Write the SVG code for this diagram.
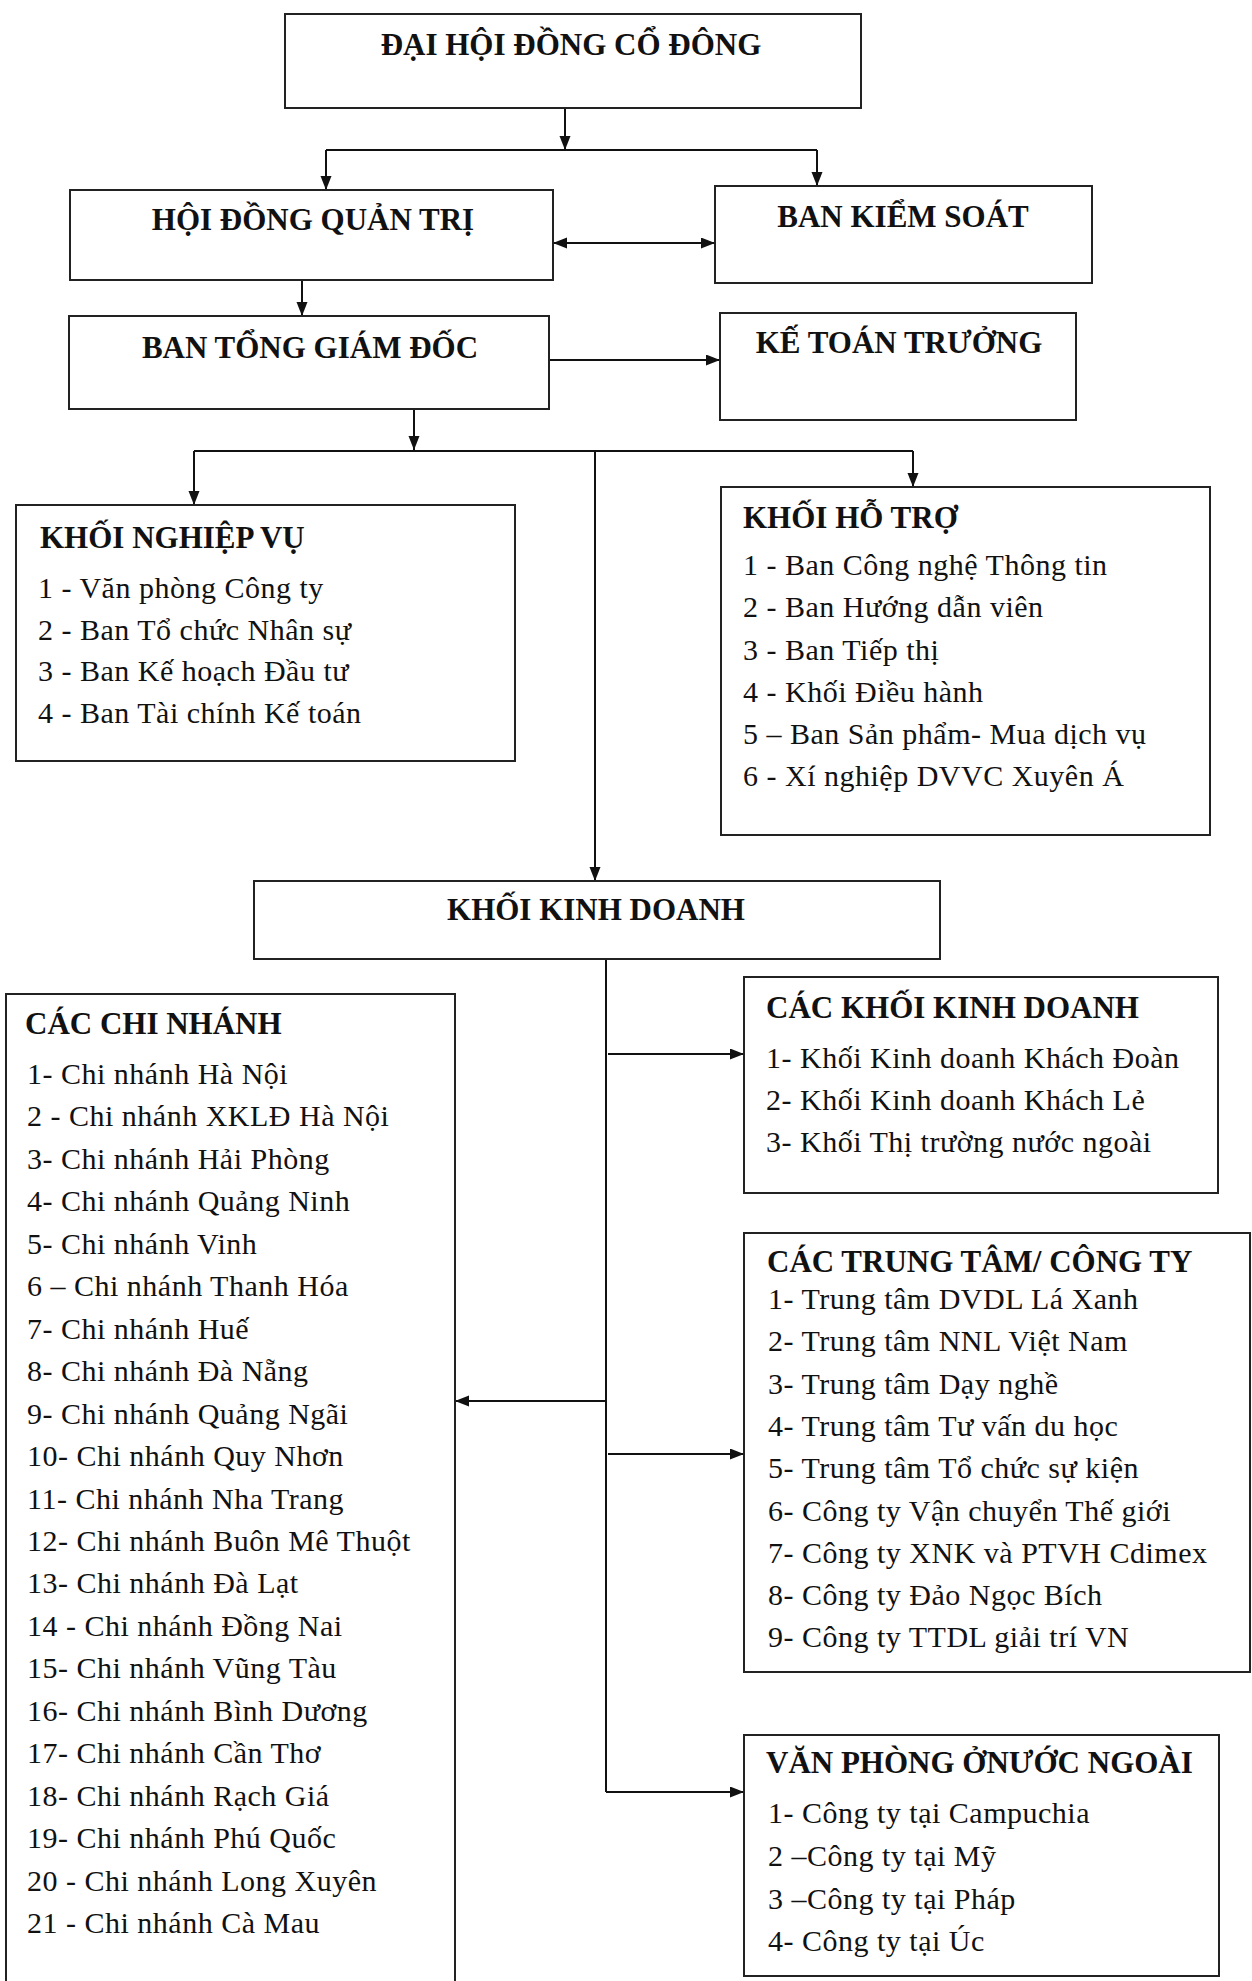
<svg xmlns="http://www.w3.org/2000/svg" width="1252" height="1981" viewBox="0 0 1252 1981">
<defs>
<marker id="arr" markerUnits="userSpaceOnUse" markerWidth="15" markerHeight="12" refX="14" refY="5.5" orient="auto-start-reverse">
<path d="M0,0 L14,5.5 L0,11 z" fill="#111"/>
</marker>
<style>
.box{fill:#fff;stroke:#222;stroke-width:2}
.t{font-family:"Liberation Serif","Times New Roman",serif;font-size:31px;font-weight:bold;fill:#111}
.c{text-anchor:middle}
.i{font-family:"Liberation Serif","Times New Roman",serif;font-size:30px;letter-spacing:0.5px;fill:#111}
.ln{fill:none;stroke:#111;stroke-width:2}
.ar{fill:none;stroke:#111;stroke-width:2;marker-end:url(#arr)}
</style>
</defs>
<rect width="1252" height="1981" fill="#fff"/>

<g id="connectors">
<path class="ar" d="M565,108 V150"/>
<path class="ln" d="M326,150 H817"/>
<path class="ar" d="M326,150 V190"/>
<path class="ar" d="M817,150 V186"/>
<path class="ar" style="marker-start:url(#arr)" d="M553,243 H715"/>
<path class="ar" d="M302,280 V316"/>
<path class="ar" d="M549,360 H720"/>
<path class="ar" d="M414,409 V450"/>
<path class="ln" d="M194,451 H913"/>
<path class="ar" d="M194,451 V505"/>
<path class="ar" d="M913,451 V487"/>
<path class="ar" d="M595,451 V881"/>
<path class="ln" d="M606,959 V1792"/>
<path class="ar" d="M608,1054 H744"/>
<path class="ar" d="M606,1401 H455"/>
<path class="ar" d="M608,1454 H744"/>
<path class="ar" d="M606,1792 H744"/>
</g>

<g id="dhdcd">
<rect class="box" x="285" y="14" width="576" height="94"/>
<text class="t c" x="571" y="55">ĐẠI HỘI ĐỒNG CỔ ĐÔNG</text>
</g>

<g id="hdqt">
<rect class="box" x="70" y="190" width="483" height="90"/>
<text class="t c" x="313" y="230">HỘI ĐỒNG QUẢN TRỊ</text>
</g>

<g id="bks">
<rect class="box" x="715" y="186" width="377" height="97"/>
<text class="t c" x="903" y="227">BAN KIỂM SOÁT</text>
</g>

<g id="btgd">
<rect class="box" x="69" y="316" width="480" height="93"/>
<text class="t c" x="310" y="358">BAN TỔNG GIÁM ĐỐC</text>
</g>

<g id="ktt">
<rect class="box" x="720" y="313" width="356" height="107"/>
<text class="t c" x="899" y="353">KẾ TOÁN TRƯỞNG</text>
</g>

<g id="knv">
<rect class="box" x="16" y="505" width="499" height="256"/>
<text class="t" x="40" y="548">KHỐI NGHIỆP VỤ</text>
<text class="i" x="38" y="598">1 - Văn phòng Công ty</text>
<text class="i" x="38" y="640">2 - Ban Tổ chức Nhân sự</text>
<text class="i" x="38" y="681">3 - Ban Kế hoạch Đầu tư</text>
<text class="i" x="38" y="723">4 - Ban Tài chính Kế toán</text>
</g>

<g id="kht">
<rect class="box" x="721" y="487" width="489" height="348"/>
<text class="t" x="743" y="528">KHỐI HỖ TRỢ</text>
<text class="i" x="743" y="575">1 - Ban Công nghệ Thông tin</text>
<text class="i" x="743" y="617">2 - Ban Hướng dẫn viên</text>
<text class="i" x="743" y="660">3 - Ban Tiếp thị</text>
<text class="i" x="743" y="702">4 - Khối Điều hành</text>
<text class="i" x="743" y="744">5 – Ban Sản phẩm- Mua dịch vụ</text>
<text class="i" x="743" y="786">6 - Xí nghiệp DVVC Xuyên Á</text>
</g>

<g id="kkd">
<rect class="box" x="254" y="881" width="686" height="78"/>
<text class="t c" x="596" y="920">KHỐI KINH DOANH</text>
</g>

<g id="ccn">
<rect class="box" x="6" y="994" width="449" height="1000"/>
<text class="t" x="25" y="1034">CÁC CHI NHÁNH</text>
<text class="i" x="27" y="1084">1- Chi nhánh Hà Nội</text>
<text class="i" x="27" y="1126">2 - Chi nhánh XKLĐ Hà Nội</text>
<text class="i" x="27" y="1169">3- Chi nhánh Hải Phòng</text>
<text class="i" x="27" y="1211">4- Chi nhánh Quảng Ninh</text>
<text class="i" x="27" y="1254">5- Chi nhánh Vinh</text>
<text class="i" x="27" y="1296">6 – Chi nhánh Thanh Hóa</text>
<text class="i" x="27" y="1339">7- Chi nhánh Huế</text>
<text class="i" x="27" y="1381">8- Chi nhánh Đà Nẵng</text>
<text class="i" x="27" y="1424">9- Chi nhánh Quảng Ngãi</text>
<text class="i" x="27" y="1466">10- Chi nhánh Quy Nhơn</text>
<text class="i" x="27" y="1509">11- Chi nhánh Nha Trang</text>
<text class="i" x="27" y="1551">12- Chi nhánh Buôn Mê Thuột</text>
<text class="i" x="27" y="1593">13- Chi nhánh Đà Lạt</text>
<text class="i" x="27" y="1636">14 - Chi nhánh Đồng Nai</text>
<text class="i" x="27" y="1678">15- Chi nhánh Vũng Tàu</text>
<text class="i" x="27" y="1721">16- Chi nhánh Bình Dương</text>
<text class="i" x="27" y="1763">17- Chi nhánh Cần Thơ</text>
<text class="i" x="27" y="1806">18- Chi nhánh Rạch Giá</text>
<text class="i" x="27" y="1848">19- Chi nhánh Phú Quốc</text>
<text class="i" x="27" y="1891">20 - Chi nhánh Long Xuyên</text>
<text class="i" x="27" y="1933">21 - Chi nhánh Cà Mau</text>
</g>

<g id="ckkd">
<rect class="box" x="744" y="977" width="474" height="216"/>
<text class="t" x="766" y="1018">CÁC KHỐI KINH DOANH</text>
<text class="i" x="766" y="1068">1- Khối Kinh doanh Khách Đoàn</text>
<text class="i" x="766" y="1110">2- Khối Kinh doanh Khách Lẻ</text>
<text class="i" x="766" y="1152">3- Khối Thị trường nước ngoài</text>
</g>

<g id="cttct">
<rect class="box" x="744" y="1233" width="506" height="439"/>
<text class="t" x="767" y="1272">CÁC TRUNG TÂM/ CÔNG TY</text>
<text class="i" x="768" y="1309">1- Trung tâm DVDL Lá Xanh</text>
<text class="i" x="768" y="1351">2- Trung tâm NNL Việt Nam</text>
<text class="i" x="768" y="1394">3- Trung tâm Dạy nghề</text>
<text class="i" x="768" y="1436">4- Trung tâm Tư vấn du học</text>
<text class="i" x="768" y="1478">5- Trung tâm Tổ chức sự kiện</text>
<text class="i" x="768" y="1521">6- Công ty Vận chuyển Thế giới</text>
<text class="i" x="768" y="1563">7- Công ty XNK và PTVH Cdimex</text>
<text class="i" x="768" y="1605">8- Công ty Đảo Ngọc Bích</text>
<text class="i" x="768" y="1647">9- Công ty TTDL giải trí VN</text>
</g>

<g id="vpnn">
<rect class="box" x="744" y="1735" width="475" height="241"/>
<text class="t" x="766" y="1773">VĂN PHÒNG ỞNƯỚC NGOÀI</text>
<text class="i" x="768" y="1823">1- Công ty tại Campuchia</text>
<text class="i" x="768" y="1866">2 –Công ty tại Mỹ</text>
<text class="i" x="768" y="1909">3 –Công ty tại Pháp</text>
<text class="i" x="768" y="1951">4- Công ty tại Úc</text>
</g>
</svg>
